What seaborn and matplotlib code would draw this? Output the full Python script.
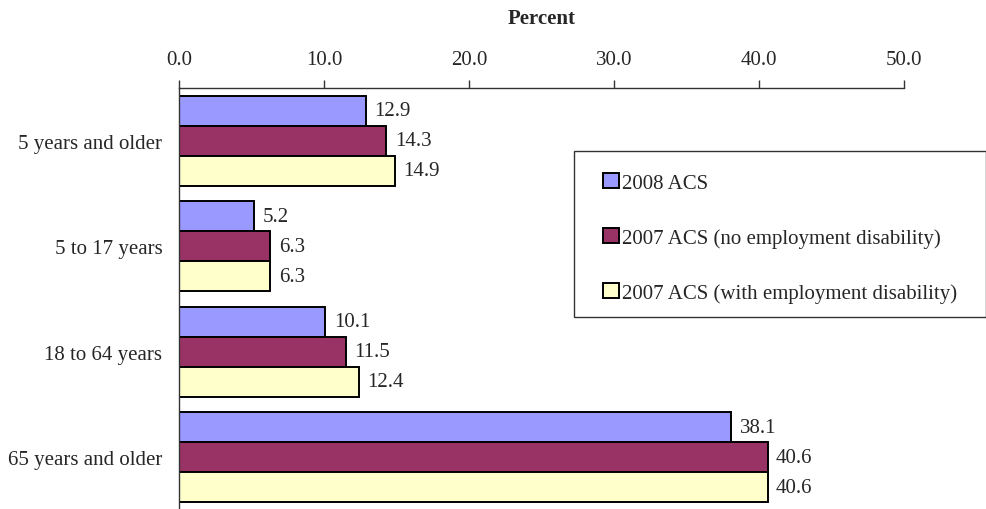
import pandas as pd
import matplotlib.pyplot as plt
import seaborn as sns
from matplotlib.ticker import FixedLocator
from matplotlib.patches import Rectangle

# --- Dados ---
age_groups = ['5 years and older', '5 to 17 years', '18 to 64 years', '65 years and older']
series_names = ['2008 ACS',
                '2007 ACS (no employment disability)',
                '2007 ACS (with employment disability)']
acs_2008 = [12.9, 5.2, 10.1, 38.1]
acs_2007_no_emp = [14.3, 6.3, 11.5, 40.6]
acs_2007_with_emp = [14.9, 6.3, 12.4, 40.6]
x_ticks = [0, 10, 20, 30, 40, 50]

COLORS = ['#9999FF', '#993366', '#FFFFCC']
W, H = 987, 510

df = pd.DataFrame({
    'age': age_groups * 3,
    'serie': [s for s in series_names for _ in age_groups],
    'valor': acs_2008 + acs_2007_no_emp + acs_2007_with_emp,
})

sns.set_style("white")
plt.rcParams['font.family'] = ['Liberation Serif', 'DejaVu Serif']
plt.rcParams['font.size'] = 15

fig = plt.figure(figsize=(W / 100, H / 100), dpi=100)
ax = fig.add_axes([179 / W, -1 / H, (904 - 179) / W, (511 - 89) / H])

sns.barplot(data=df, y='age', x='valor', hue='serie', order=age_groups,
            hue_order=series_names, palette=COLORS, orient='h', width=0.855,
            edgecolor='black', linewidth=1.4, saturation=1, ax=ax)

for cont in ax.containers:
    ax.bar_label(cont, fmt='%.1f', padding=6, fontsize=15)

# eixo x no topo
ax.set_xlim(0, 50)
ax.set_ylim(3.5, -0.5)
ax.xaxis.tick_top()
ax.xaxis.set_label_position('top')
ax.set_xticks(x_ticks)
ax.set_xticklabels([f'{v:.1f}' for v in x_ticks], fontsize=15)
ax.tick_params(axis='x', direction='out', length=6, width=1, color='#333333', pad=8)
ax.set_xlabel('Percent', fontweight='bold', fontsize=15, labelpad=19)
ax.set_ylabel('')

# eixo y: rótulos no centro, marcas nas divisões
ax.tick_params(axis='y', which='major', length=0, pad=12, labelsize=15)
ax.yaxis.set_minor_locator(FixedLocator([-0.5, 0.5, 1.5, 2.5, 3.5]))
ax.tick_params(axis='y', which='minor', direction='out', length=6, width=1, color='#333333')

for side in ['right', 'bottom']:
    ax.spines[side].set_visible(False)
for side in ['top', 'left']:
    ax.spines[side].set_color('#333333')
    ax.spines[side].set_linewidth(1)

# moldura da legenda desenhada à parte
frame = Rectangle((574 / W, 1 - 318 / H), (986 - 574) / W, (318 - 152) / H,
                  transform=fig.transFigure, facecolor='white',
                  edgecolor='#333333', linewidth=1, zorder=3, clip_on=False)
ax.add_patch(frame)

leg = ax.legend(loc='upper left', bbox_to_anchor=(603 / W, 1 - 174 / H),
                bbox_transform=fig.transFigure, borderaxespad=0, fontsize=15,
                handlelength=0.75, handleheight=0.75, handletextpad=0.15,
                labelspacing=1.68, borderpad=0, frameon=False)
leg.set_zorder(5)

fig.savefig('out.png', dpi=100)
